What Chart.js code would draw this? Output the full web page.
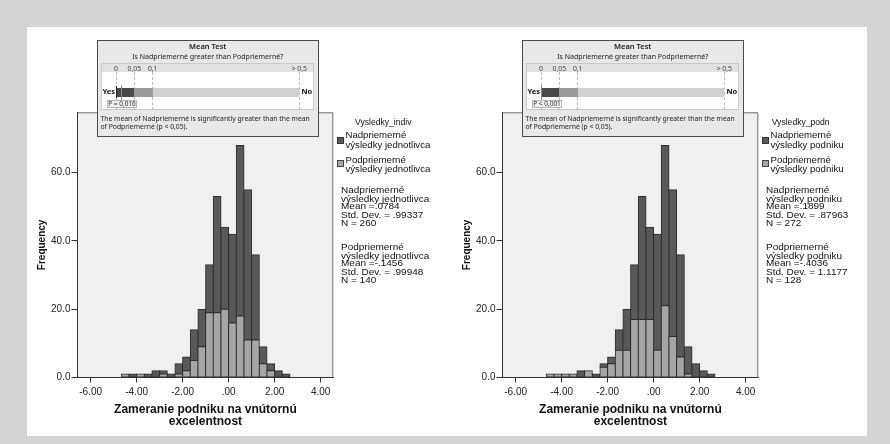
<!DOCTYPE html>
<html>
<head>
<meta charset="utf-8">
<script src="https://cdn.jsdelivr.net/npm/chart.js@4.4.0/dist/chart.umd.min.js"></script>
<style>
  body { margin: 0; background: #d4d4d4; }
  #page { position: relative; width: 890px; height: 444px; background: #d4d4d4; overflow: hidden; }
  #sheet { position: absolute; left: 27px; top: 27px; width: 840px; height: 409px; background: #fff; }
  canvas { position: absolute; }
  .abs { position: absolute; white-space: nowrap; }
  .mt { position: absolute; top: 40px; width: 221.5px; height: 97px; background: #e8e8e8;
        box-shadow: inset 0 0 0 1px #4b4b4b; font-family: "Noto Sans", sans-serif; color: #222; }
  .mt .abs { line-height: 9px; }
  .legend { font-family: "Liberation Sans", Arial, sans-serif; color: #111; }
  .squeeze { transform: scale(1, 0.87); transform-origin: 0 0; }
</style>
</head>
<body>
<div id="page">
  <div id="sheet"></div>
  <canvas id="chartIndiv" width="320" height="330" style="left:30px;top:100px"></canvas>
  <canvas id="chartPodn" width="320" height="330" style="left:455px;top:100px"></canvas>
</div>
<script>
// stredy tried histogramu (sirka triedy 1/3)
const binCenters = [-4.5, -4.1667, -3.8333, -3.5, -3.1667, -2.8333, -2.5, -2.1667, -1.8333, -1.5, -1.1667,
                    -0.8333, -0.5, -0.1667, 0.1667, 0.5, 0.8333, 1.1667, 1.5, 1.8333, 2.1667, 2.5];

// Vysledky_indiv
const indivNad = [0, 1, 0, 1, 2, 1, 1, 3, 4, 9, 11, 14, 34, 24, 26, 50, 44, 25, 5, 2, 2, 1];
const indivPod = [1, 0, 1, 0, 0, 1, 0, 1, 2, 5, 9, 19, 19, 20, 16, 18, 11, 11, 4, 2, 0, 0];

// Vysledky_podn
const podnNad = [0, 0, 0, 0, 2, 0, 1, 1, 2, 6, 12, 16, 36, 27, 34, 47, 43, 30, 8, 4, 2, 1];
const podnPod = [1, 1, 1, 1, 0, 2, 0, 3, 4, 8, 8, 17, 17, 17, 8, 21, 12, 6, 1, 0, 0, 0];

const xTickValues = [-6, -4, -2, 0, 2, 4];
const xTickLabels = ["-6.00", "-4.00", "-2.00", ".00", "2.00", "4.00"];
const yTickValues = [0, 20, 40, 60];
const yTickLabels = ["0.0", "20.0", "40.0", "60.0"];

const groupTitles = ["Vysledky_indiv", "Vysledky_podn"];
const groupSuffix = ["výsledky jednotlivca", "výsledky podniku"];
const statsNad = [["Mean =.0784", "Std. Dev. = .99337", "N = 260"], ["Mean =.1899", "Std. Dev. = .87963", "N = 272"]];
const statsPod = [["Mean =-.1456", "Std. Dev. = .99948", "N = 140"], ["Mean =-.4036", "Std. Dev. = 1.1177", "N = 128"]];
const pValues = [0.016, 0.001];
const pLabels = ["P = 0,016", "P < 0,001"];

const DARK = "#595959";
const LIGHT = "#a6a6a6";
const FONT = "'Liberation Sans', Arial, sans-serif";

// pozadie a ram plochy grafu
const plotFrame = {
  id: "plotFrame",
  beforeDraw(chart) {
    const { ctx, chartArea: a } = chart;
    ctx.save();
    ctx.fillStyle = "#f0f0f0";
    ctx.fillRect(a.left, a.top, a.width, a.height);
    ctx.restore();
  },
  afterDraw(chart) {
    const { ctx, chartArea: a } = chart;
    ctx.save();
    ctx.strokeStyle = "#6e6e6e";
    ctx.lineWidth = 1;
    ctx.beginPath();
    ctx.moveTo(a.left, a.top + 0.5);
    ctx.lineTo(a.right - 0.5, a.top + 0.5);
    ctx.lineTo(a.right - 0.5, a.bottom);
    ctx.stroke();
    ctx.restore();
  }
};

function makeChart(id, pod, nad) {
  const toPoints = arr => binCenters.map((x, i) => ({ x: x, y: arr[i] ? arr[i] : null }));
  return new Chart(document.getElementById(id), {
    type: "bar",
    data: {
      datasets: [
        { label: "Podpriemerné", data: toPoints(pod), backgroundColor: LIGHT },
        { label: "Nadpriemerné", data: toPoints(nad), backgroundColor: DARK }
      ]
    },
    options: {
      responsive: false,
      animation: false,
      devicePixelRatio: 1,
      layout: { padding: { left: 6.3, top: 12.3, right: 16.7, bottom: 2.7 } },
      datasets: {
        bar: {
          barPercentage: 1,
          categoryPercentage: 1,
          borderWidth: 1,
          borderColor: "#2e2e2e",
          borderSkipped: false,
          inflateAmount: 0.5
        }
      },
      plugins: { legend: { display: false }, tooltip: { enabled: false } },
      scales: {
        x: {
          type: "linear",
          stacked: true,
          min: -6.57,
          max: 4.55,
          offset: false,
          afterBuildTicks: s => { s.ticks = xTickValues.map(v => ({ value: v })); },
          afterFit: s => { s.height = 49.8; },
          grid: { offset: false, drawOnChartArea: false, tickLength: 5, color: "#333" },
          border: { color: "#333" },
          ticks: {
            autoSkip: false, maxRotation: 0, padding: 3.5, color: "#222",
            font: { family: FONT, size: 10 },
            callback: v => xTickLabels[xTickValues.indexOf(v)]
          },
          title: {
            display: true,
            text: ["Zameranie podniku na vnútornú", "excelentnost"],
            color: "#111",
            padding: 0,
            font: { family: FONT, size: 12, weight: "bold", lineHeight: 1 }
          }
        },
        y: {
          stacked: true,
          min: 0,
          max: 77.7,
          afterBuildTicks: s => { s.ticks = yTickValues.map(v => ({ value: v })); },
          afterFit: s => { s.width = 41.2; },
          grid: { drawOnChartArea: false, tickLength: 6, color: "#333" },
          border: { color: "#333" },
          ticks: {
            padding: 1, color: "#222",
            font: { family: FONT, size: 10 },
            callback: v => yTickLabels[yTickValues.indexOf(v)]
          },
          title: {
            display: true,
            text: "Frequency",
            color: "#111",
            padding: 0,
            font: { family: FONT, size: 10, weight: "bold" }
          }
        }
      }
    },
    plugins: [plotFrame]
  });
}

// okno "Mean Test", legenda a statistiky
function addOverlay(k) {
  const dx = k * 425;
  const page = document.getElementById("page");
  const barX = 19;                // poloha p = 0 v okne
  const pScale = 18.3 / 0.05;     // px na jednotku p do 0,1
  const marks = [[barX, "0"], [barX + 18.3, "0,05"], [barX + 36.7, "0,1"], [barX + 183.3, "> 0,5"]];
  const px = barX + pValues[k] * pScale;

  let h = '<div class="mt" style="left:' + (97 + dx) + 'px">';
  h += '<div class="abs" style="left:0;width:100%;top:2px;text-align:center;font-size:7.5px;font-weight:600">Mean Test</div>';
  h += '<div class="abs" style="left:0;width:100%;top:12px;text-align:center;font-size:7px">Is Nadpriemerné greater than Podpriemerné?</div>';
  h += '<div class="abs" style="left:3.5px;top:23.3px;width:213.8px;height:46.7px;background:#fff;box-shadow:inset 0 0 0 1px #c9c9c9"></div>';
  h += '<div class="abs" style="left:4.5px;top:24.3px;width:211.8px;height:8px;background:#e2e2e2"></div>';
  marks.forEach(m => {
    h += '<div class="abs" style="left:' + (m[0] - 0.5) + 'px;top:32.3px;height:37.7px;border-left:1px dashed #bdbdbd"></div>';
    h += '<div class="abs" style="left:' + (m[0] - 15) + 'px;width:30px;top:23.7px;text-align:center;font-size:6.8px;color:#444">' + m[1] + '</div>';
  });
  h += '<div class="abs" style="left:' + barX + 'px;top:47.5px;width:18.3px;height:9px;background:#4a4a4a"></div>';
  h += '<div class="abs" style="left:' + (barX + 18.3) + 'px;top:47.5px;width:18.4px;height:9px;background:#9b9b9b"></div>';
  h += '<div class="abs" style="left:' + (barX + 36.7) + 'px;top:47.5px;width:146.6px;height:9px;background:#d0d0d0"></div>';
  h += '<div class="abs" style="left:' + barX + 'px;top:46px;height:12px;border-left:1px solid #222"></div>';
  h += '<div class="abs" style="left:' + (px - 0.5) + 'px;top:45px;height:16px;border-left:1px solid #8a8a8a"></div>';
  h += '<div class="abs" style="left:0;width:18px;top:46.5px;text-align:right;font-size:7.5px;font-weight:700;color:#111">Yes</div>';
  h += '<div class="abs" style="left:204.5px;top:46.5px;font-size:7.5px;font-weight:700;color:#111">No</div>';
  h += '<div class="abs" style="left:10px;top:59.5px;width:30px;height:8px;background:#efefef;box-shadow:inset 0 0 0 1px #b5b5b5"></div>';
  h += '<div class="abs" style="left:10px;width:30px;top:59px;text-align:center;font-size:6.5px;color:#333">' + pLabels[k] + '</div>';
  h += '<div class="abs" style="left:3.5px;top:74.5px;font-size:6.8px;line-height:8.5px">The mean of Nadpriemerné is significantly greater than the mean<br>of Podpriemerné (p &lt; 0,05).</div>';
  h += '</div>';

  // legenda
  const lx = 336.5 + dx;
  h += '<div class="abs legend" style="left:' + (355 + dx - k * 8.3) + 'px;top:117px;font-size:8.6px;line-height:11px">' + groupTitles[k] + '</div>';
  h += '<div class="abs" style="left:' + lx + 'px;top:137px;width:7px;height:7px;background:' + DARK + ';box-shadow:inset 0 0 0 1px #333"></div>';
  h += '<div class="abs" style="left:' + lx + 'px;top:160px;width:7px;height:7px;background:' + LIGHT + ';box-shadow:inset 0 0 0 1px #444"></div>';
  h += '<div class="abs legend" style="left:' + (lx + 9) + 'px;top:130px;font-size:9.6px;line-height:10px">Nadpriemerné<br>' + groupSuffix[k] + '</div>';
  h += '<div class="abs legend" style="left:' + (lx + 9) + 'px;top:155px;font-size:9.6px;line-height:9.4px">Podpriemerné<br>' + groupSuffix[k] + '</div>';

  // statistiky
  h += '<div class="abs legend squeeze" style="left:' + (341 + dx) + 'px;top:185.8px;font-size:10px;line-height:9.6px">Nadpriemerné<br>' +
       groupSuffix[k] + '<br>' + statsNad[k].join("<br>") + '</div>';
  h += '<div class="abs legend squeeze" style="left:' + (341 + dx) + 'px;top:242.5px;font-size:10px;line-height:9.6px">Podpriemerné<br>' +
       groupSuffix[k] + '<br>' + statsPod[k].join("<br>") + '</div>';

  page.insertAdjacentHTML("beforeend", h);
}

makeChart("chartIndiv", indivPod, indivNad);
makeChart("chartPodn", podnPod, podnNad);
addOverlay(0);
addOverlay(1);
</script>
</body>
</html>
